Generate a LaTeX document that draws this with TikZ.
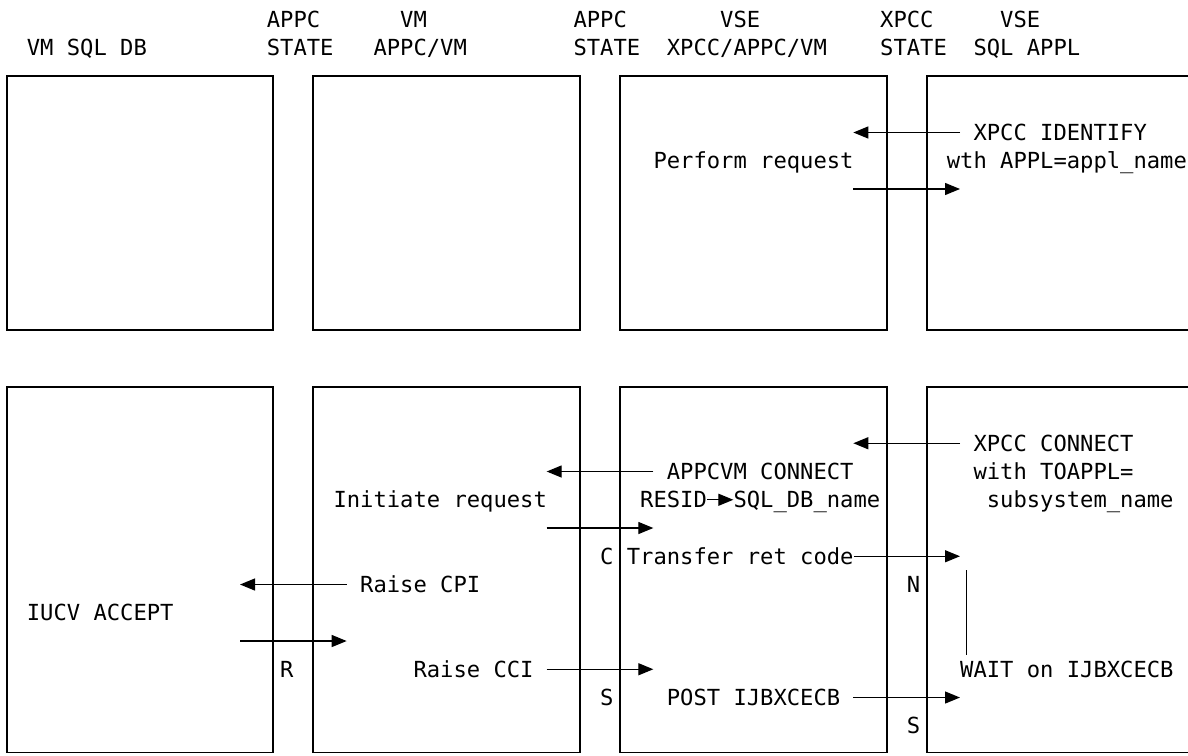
\documentclass[tikz,border=0pt]{standalone}
\usepackage{fontspec}
\setmonofont{DejaVu Sans Mono}
\usepackage{tikz}
\usetikzlibrary{arrows.meta}
\tikzset{
  pane/.style  = {draw, line width=1.8pt, inner sep=0pt, minimum width=266.67pt},
  toppane/.style = {pane, minimum height=254.25pt},
  lowpane/.style = {pane, minimum height=365.8pt},
  lbl/.style   = {anchor=west, inner sep=0pt, text height=16.15pt, text depth=0pt,
                  font=\ttfamily\fontsize{22.15pt}{28pt}\selectfont},
  ar/.style    = {-{Triangle[length=15pt, width=12pt]}, line width=1.3pt},
  wln/.style   = {line width=1.3pt},
}

\begin{document}
\begin{tikzpicture}[x=13.333pt, y=-28.25pt, xshift=6.667pt, yshift=-19.5pt]
  \useasboundingbox (-0.5,-0.69) rectangle (88.6,26.04);

  \node[lbl] (hdb)   at (1.5,1)  {VM SQL DB};
  \node[lbl] (hst1a) at (19.5,0) {APPC};
  \node[lbl] (hst1b) at (19.5,1) {STATE};
  \node[lbl] (hvma)  at (29.5,0) {VM};
  \node[lbl] (hvmb)  at (27.5,1) {APPC/VM};
  \node[lbl] (hst2a) at (42.5,0) {APPC};
  \node[lbl] (hst2b) at (42.5,1) {STATE};
  \node[lbl] (hvsea) at (53.5,0) {VSE};
  \node[lbl] (hvseb) at (49.5,1) {XPCC/APPC/VM};
  \node[lbl] (hst3a) at (65.5,0) {XPCC};
  \node[lbl] (hst3b) at (65.5,1) {STATE};
  \node[lbl] (hapa)  at (74.5,0) {VSE};
  \node[lbl] (hapb)  at (72.5,1) {SQL APPL};

  \node[toppane] (db1)  at (10,6.5) {};
  \node[toppane] (vm1)  at (33,6.5) {};
  \node[toppane] (vse1) at (56,6.5) {};
  \node[toppane] (app1) at (79,6.5) {};
  \node[lowpane] (db2)  at (10,19.475) {};
  \node[lowpane] (vm2)  at (33,19.475) {};
  \node[lowpane] (vse2) at (56,19.475) {};
  \node[lowpane] (app2) at (79,19.475) {};

  \node[lbl] (perf) at (48.5,5) {Perform request};
  \node[lbl] (xid)  at (72.5,4) {XPCC IDENTIFY};
  \node[lbl] (wth)  at (70.5,5) {wth APPL=appl\_name};
  \coordinate (idtl) at (71.5,4);
  \coordinate (idtp) at (63.5,4);
  \coordinate (pfst) at (63.5,6);
  \coordinate (pfen) at (71.5,6);
  \draw[ar] (idtl) -- (idtp);
  \draw[ar] (pfst) -- (pfen);

  \node[lbl] (xcon)   at (72.5,15) {XPCC CONNECT};
  \node[lbl] (apcon)  at (49.5,16) {APPCVM CONNECT};
  \node[lbl] (toappl) at (72.5,16) {with TOAPPL=};
  \node[lbl] (init)   at (24.5,17) {Initiate request};
  \node[lbl] (resid)  at (47.5,17) {RESID};
  \node[lbl] (sqlnm)  at (54.5,17) {SQL\_DB\_name};
  \node[lbl] (subsys) at (73.5,17) {subsystem\_name};
  \node[lbl] (stc)    at (44.5,19) {C};
  \node[lbl] (xfer)   at (46.5,19) {Transfer ret code};
  \node[lbl] (cpi)    at (26.5,20) {Raise CPI};
  \node[lbl] (stn)    at (67.5,20) {N};
  \node[lbl] (iucv)   at (1.5,21)  {IUCV ACCEPT};
  \node[lbl] (str)    at (20.5,23) {R};
  \node[lbl] (cci)    at (30.5,23) {Raise CCI};
  \node[lbl] (wait)   at (71.5,23) {WAIT on IJBXCECB};
  \node[lbl] (sts1)   at (44.5,24) {S};
  \node[lbl] (post)   at (49.5,24) {POST IJBXCECB};
  \node[lbl] (sts2)   at (67.5,25) {S};

  \coordinate (xctl) at (71.5,15);
  \coordinate (xctp) at (63.5,15);
  \coordinate (actl) at (48.5,16);
  \coordinate (actp) at (40.5,16);
  \coordinate (irst) at (40.5,18);
  \coordinate (iren) at (48.5,18);
  \coordinate (xfen) at (71.5,19);
  \coordinate (cptl) at (25.5,20);
  \coordinate (cptp) at (17.5,20);
  \coordinate (acst) at (17.5,22);
  \coordinate (acen) at (25.5,22);
  \coordinate (ccst) at (40.5,23);
  \coordinate (ccen) at (48.5,23);
  \coordinate (psst) at (63.5,24);
  \coordinate (psen) at (71.5,24);
  \coordinate (wtop) at (72,19.5);
  \coordinate (wbot) at (72,22.5);

  \draw[ar] (xctl) -- (xctp);
  \draw[ar] (actl) -- (actp);
  \draw[ar] (resid.east) -- (sqlnm.west);
  \draw[ar] (irst) -- (iren);
  \draw[ar] (xfer.east) -- (xfen);
  \draw[ar] (cptl) -- (cptp);
  \draw[ar] (acst) -- (acen);
  \draw[ar] (ccst) -- (ccen);
  \draw[ar] (psst) -- (psen);
  \draw[wln] (wtop) -- (wbot);
\end{tikzpicture}
\end{document}
